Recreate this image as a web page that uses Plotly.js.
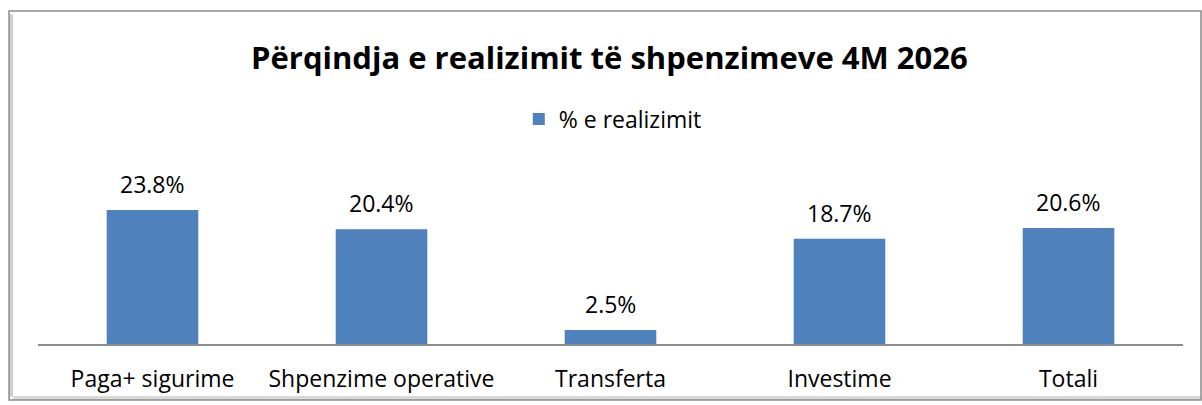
<!DOCTYPE html>
<html>
<head>
<meta charset="utf-8">
<script src="https://cdn.plot.ly/plotly-3.0.1.min.js"></script>
<style>html,body{margin:0;padding:0;background:#fff;}#chart{width:1202px;height:405px;}</style>
</head>
<body>
<div id="chart"></div>
<script>
const categories = ["Paga+ sigurime", "Shpenzime operative", "Transferta", "Investime", "Totali"];
const values = [23.8, 20.4, 2.5, 18.7, 20.6];
const labels = ["23.8%", "20.4%", "2.5%", "18.7%", "20.6%"];
const seriesName = "% e realizimit";
const chartTitle = "Përqindja e realizimit të shpenzimeve 4M 2026";

const FONT = "'Open Sans', sans-serif";

const trace = {
  type: "bar",
  x: categories,
  y: values,
  name: seriesName,
  marker: {color: "#4F81BD"},
  hoverinfo: "none"
};

const annotations = categories.map((c, i) => ({
  x: c, y: values[i], xref: "x", yref: "y",
  text: labels[i], showarrow: false,
  yanchor: "bottom", yshift: 8,
  font: {family: FONT, size: 23, color: "#000"}
}));

const layout = {
  width: 1202, height: 405,
  margin: {l: 38, r: 19, t: 150, b: 61},
  paper_bgcolor: "#fff", plot_bgcolor: "#fff",
  bargap: 0.6,
  showlegend: true,
  title: {text: "<b>" + chartTitle + "</b>", x: 0.507, xanchor: "center", y: 0.857, yanchor: "middle",
          font: {family: FONT, size: 31, color: "#000"}},
  legend: {orientation: "h", x: 0.502, xanchor: "center", y: 1.16, yanchor: "middle",
           font: {family: FONT, size: 23, color: "#000"}},
  xaxis: {showline: true, linecolor: "#8c8c8c", linewidth: 1.5, ticks: "", showgrid: false,
          tickfont: {family: FONT, size: 23, color: "#000"}, ticklabelstandoff: 14, fixedrange: true},
  yaxis: {range: [0, 34.46], visible: false, showgrid: false, zeroline: false, fixedrange: true},
  annotations: annotations,
  shapes: [
    {type: "line", xref: "paper", yref: "paper", x0: -0.0235, x1: -0.0235, y0: 1.70, y1: -0.27,
     line: {color: "#d0d0d0", width: 4}, layer: "below"},
    {type: "line", xref: "paper", yref: "paper", x0: -0.022, x1: 1.0155, y0: -0.278, y1: -0.278,
     line: {color: "#d9d9d9", width: 4}, layer: "below"},
    {type: "rect", xref: "paper", yref: "paper", x0: -0.0253, x1: 1.0157, y0: -0.289, y1: 1.716,
     line: {color: "#8c8c8c", width: 1.5}, layer: "below"}
  ]
};

Plotly.newPlot("chart", [trace], layout, {displayModeBar: false, staticPlot: true});
</script>
</body>
</html>
